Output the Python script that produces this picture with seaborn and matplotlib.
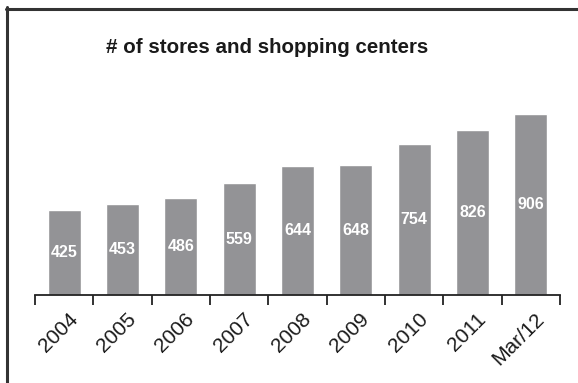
import matplotlib
matplotlib.use("Agg")
import matplotlib.pyplot as plt
import seaborn as sns
import pandas as pd
from matplotlib.lines import Line2D
from matplotlib.ticker import FixedLocator
import matplotlib.transforms as mtransforms

categories = ["2004", "2005", "2006", "2007", "2008", "2009", "2010", "2011", "Mar/12"]
stores = [425, 453, 486, 559, 644, 648, 754, 826, 906]
title = "# of stores and shopping centers"

sns.set_theme(style="white")
plt.rcParams["font.family"] = ["Liberation Sans", "DejaVu Sans"]

df = pd.DataFrame({"period": categories, "stores": stores})

W, H = 578, 383
fig = plt.figure(figsize=(W / 100, H / 100), dpi=100)
ax = fig.add_axes([35 / W, (H - 295) / H, (560 - 35) / W, (295 - 100) / H])

sns.barplot(data=df, x="period", y="stores", color="#939396", saturation=1,
            width=0.57, ax=ax)

ax.set_xlim(-0.5, len(categories) - 0.5)
ax.set_ylim(0, 975)
ax.set_xlabel("")
ax.set_ylabel("")
ax.set_yticks([])
for s in ["top", "right", "left"]:
    ax.spines[s].set_visible(False)
ax.spines["bottom"].set_color("#222222")
ax.spines["bottom"].set_linewidth(1.3)

ax.xaxis.set_minor_locator(FixedLocator([i - 0.5 for i in range(len(categories) + 1)]))
ax.tick_params(axis="x", which="major", length=0, pad=10.5, labelsize=15, labelcolor="#1a1a1a")
ax.tick_params(axis="x", which="minor", length=7, width=1.3, color="#222222", direction="out", bottom=True)

offset = mtransforms.ScaledTranslation(4 / 100, 0, fig.dpi_scale_trans)
for lbl in ax.get_xticklabels():
    lbl.set_rotation(45)
    lbl.set_ha("right")
    lbl.set_va("top")
    lbl.set_rotation_mode("anchor")
    lbl.set_transform(lbl.get_transform() + offset)

for i, v in enumerate(stores):
    ax.text(i, v / 2, str(v), ha="center", va="center", color="white",
            fontsize=11.5, fontweight="bold")

fig.text(267.5 / W, 1 - 47.5 / H, title, ha="center", va="center",
         fontsize=14.8, fontweight="bold", color="#1a1a1a")

fig.add_artist(Line2D([6 / W, 1], [1 - 8.5 / H, 1 - 8.5 / H], transform=fig.transFigure,
                      color="#333333", linewidth=2.2))
fig.add_artist(Line2D([7 / W, 7 / W], [0, 1 - 7 / H], transform=fig.transFigure,
                      color="#333333", linewidth=2.2))

fig.savefig("out.png", dpi=100)
